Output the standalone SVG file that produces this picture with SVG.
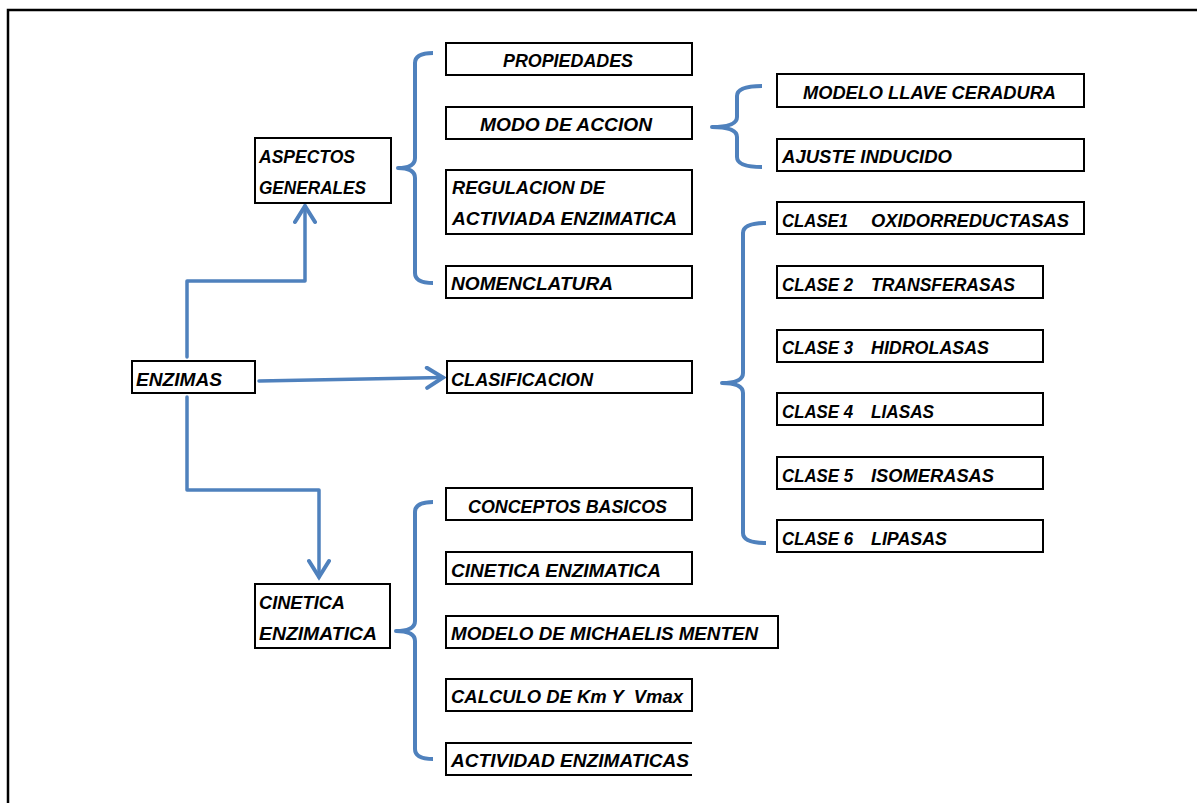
<svg xmlns="http://www.w3.org/2000/svg" width="1197" height="803" viewBox="0 0 1197 803">
<style>
.box{fill:#fff;stroke:#000;stroke-width:2}
.t{font-family:"Liberation Sans",Arial,sans-serif;font-weight:bold;font-style:italic;font-size:19px;fill:#000}
.c{fill:none;stroke:#4F81BD;stroke-width:3.5;stroke-linecap:round;stroke-linejoin:round}
.br{fill:none;stroke:#4F81BD;stroke-width:4;stroke-linecap:butt;stroke-linejoin:round}
</style>
<defs>
<marker id="arr" markerUnits="userSpaceOnUse" viewBox="-20 -12 24 24" refX="0" refY="0" markerWidth="24" markerHeight="24" orient="auto">
<path d="M-16,-10 L0,0 L-16,10" fill="none" stroke="#4F81BD" stroke-width="4" stroke-linecap="round" stroke-linejoin="miter"/>
</marker>
</defs>
<rect x="8" y="10" width="1200" height="800" fill="#fff" stroke="#000" stroke-width="2.5"/>

<g id="connectors">
<path class="c" d="M187,357 L187,281 L305,281 L305,206" marker-end="url(#arr)"/>
<path class="c" d="M259,381 L443,377.5" marker-end="url(#arr)"/>
<path class="c" d="M187,397 L187,490 L319,490 L319,577" marker-end="url(#arr)"/>
<path class="br" d="M433,53 Q415,53 415,63 L415,158 Q415,168 398,168 Q415,168 415,178 L415,273 Q415,283 433,283"/>
<path class="br" d="M762,86 Q737,86 737,96 L737,117 Q737,127 712,127 Q737,127 737,137 L737,157 Q737,167 762,167"/>
<path class="br" d="M766,223 Q743,223 743,233 L743,373 Q743,383 722,383 Q743,383 743,393 L743,533 Q743,543 766,543"/>
<path class="br" d="M433,502 Q415,502 415,512 L415,621 Q415,631 396,631 Q415,631 415,641 L415,749 Q415,759 433,759"/>
</g>

<g id="enzimas"><rect class="box" x="132" y="361" width="123" height="32"/><text class="t" x="136" y="386" textLength="86" lengthAdjust="spacingAndGlyphs">ENZIMAS</text></g>

<g id="aspectos"><rect class="box" x="255" y="138" width="136" height="65"/><text class="t" x="259" y="163" textLength="96" lengthAdjust="spacingAndGlyphs">ASPECTOS</text><text class="t" x="259" y="194" textLength="107" lengthAdjust="spacingAndGlyphs">GENERALES</text></g>
<g id="propiedades"><rect class="box" x="446" y="43" width="246" height="32"/><text class="t" x="503" y="67" textLength="130" lengthAdjust="spacingAndGlyphs">PROPIEDADES</text></g>
<g id="modo"><rect class="box" x="446" y="107" width="246" height="32"/><text class="t" x="480" y="131" textLength="172" lengthAdjust="spacingAndGlyphs">MODO DE ACCION</text></g>
<g id="regulacion"><rect class="box" x="446" y="170" width="246" height="64"/><text class="t" x="452" y="194" textLength="153" lengthAdjust="spacingAndGlyphs">REGULACION DE</text><text class="t" x="452" y="225" textLength="225" lengthAdjust="spacingAndGlyphs">ACTIVIADA ENZIMATICA</text></g>
<g id="nomenclatura"><rect class="box" x="446" y="266" width="246" height="32"/><text class="t" x="451" y="290" textLength="162" lengthAdjust="spacingAndGlyphs">NOMENCLATURA</text></g>

<g id="llave"><rect class="box" x="777" y="74" width="307" height="33"/><text class="t" x="803" y="99" textLength="253" lengthAdjust="spacingAndGlyphs">MODELO LLAVE CERADURA</text></g>
<g id="ajuste"><rect class="box" x="777" y="139" width="307" height="32"/><text class="t" x="782" y="163" textLength="170" lengthAdjust="spacingAndGlyphs">AJUSTE INDUCIDO</text></g>

<g id="clasificacion"><rect class="box" x="447" y="361" width="245" height="32"/><text class="t" x="451" y="386" textLength="142" lengthAdjust="spacingAndGlyphs">CLASIFICACION</text></g>

<g id="clase1"><rect class="box" x="777" y="202" width="307" height="32"/><text class="t" y="227"><tspan x="782" textLength="66" lengthAdjust="spacingAndGlyphs">CLASE1</tspan> <tspan x="871" textLength="198" lengthAdjust="spacingAndGlyphs">OXIDORREDUCTASAS</tspan></text></g>
<g id="clase2"><rect class="box" x="777" y="266" width="266" height="32"/><text class="t" y="291"><tspan x="782" textLength="71" lengthAdjust="spacingAndGlyphs">CLASE 2</tspan> <tspan x="871" textLength="144" lengthAdjust="spacingAndGlyphs">TRANSFERASAS</tspan></text></g>
<g id="clase3"><rect class="box" x="777" y="330" width="266" height="32"/><text class="t" y="354"><tspan x="782" textLength="71" lengthAdjust="spacingAndGlyphs">CLASE 3</tspan> <tspan x="871" textLength="118" lengthAdjust="spacingAndGlyphs">HIDROLASAS</tspan></text></g>
<g id="clase4"><rect class="box" x="777" y="393" width="266" height="32"/><text class="t" y="418"><tspan x="782" textLength="71" lengthAdjust="spacingAndGlyphs">CLASE 4</tspan> <tspan x="871" textLength="63" lengthAdjust="spacingAndGlyphs">LIASAS</tspan></text></g>
<g id="clase5"><rect class="box" x="777" y="457" width="266" height="32"/><text class="t" y="482"><tspan x="782" textLength="71" lengthAdjust="spacingAndGlyphs">CLASE 5</tspan> <tspan x="871" textLength="123" lengthAdjust="spacingAndGlyphs">ISOMERASAS</tspan></text></g>
<g id="clase6"><rect class="box" x="777" y="520" width="266" height="32"/><text class="t" y="545"><tspan x="782" textLength="71" lengthAdjust="spacingAndGlyphs">CLASE 6</tspan> <tspan x="871" textLength="76" lengthAdjust="spacingAndGlyphs">LIPASAS</tspan></text></g>

<g id="cinetica"><rect class="box" x="255" y="584" width="135" height="64"/><text class="t" x="259" y="609" textLength="86" lengthAdjust="spacingAndGlyphs">CINETICA</text><text class="t" x="259" y="640" textLength="118" lengthAdjust="spacingAndGlyphs">ENZIMATICA</text></g>
<g id="conceptos"><rect class="box" x="446" y="488" width="246" height="32"/><text class="t" x="468" y="513" textLength="199" lengthAdjust="spacingAndGlyphs">CONCEPTOS BASICOS</text></g>
<g id="cinetica-enz"><rect class="box" x="446" y="552" width="246" height="32"/><text class="t" x="451" y="577" textLength="210" lengthAdjust="spacingAndGlyphs">CINETICA ENZIMATICA</text></g>
<g id="michaelis"><rect class="box" x="446" y="616" width="332" height="32"/><text class="t" x="451" y="640" textLength="307" lengthAdjust="spacingAndGlyphs">MODELO DE MICHAELIS MENTEN</text></g>
<g id="calculo"><rect class="box" x="446" y="679" width="246" height="32"/><text class="t" x="451" y="703" textLength="232" lengthAdjust="spacingAndGlyphs" style="white-space:pre">CALCULO DE Km Y  Vmax</text></g>
<g id="actividad"><rect x="446" y="743" width="246" height="32" fill="#fff"/><path d="M692,743 L446,743 L446,775 L692,775" fill="none" stroke="#000" stroke-width="2"/><text class="t" x="451" y="767" textLength="238" lengthAdjust="spacingAndGlyphs">ACTIVIDAD ENZIMATICAS</text></g>
</svg>
